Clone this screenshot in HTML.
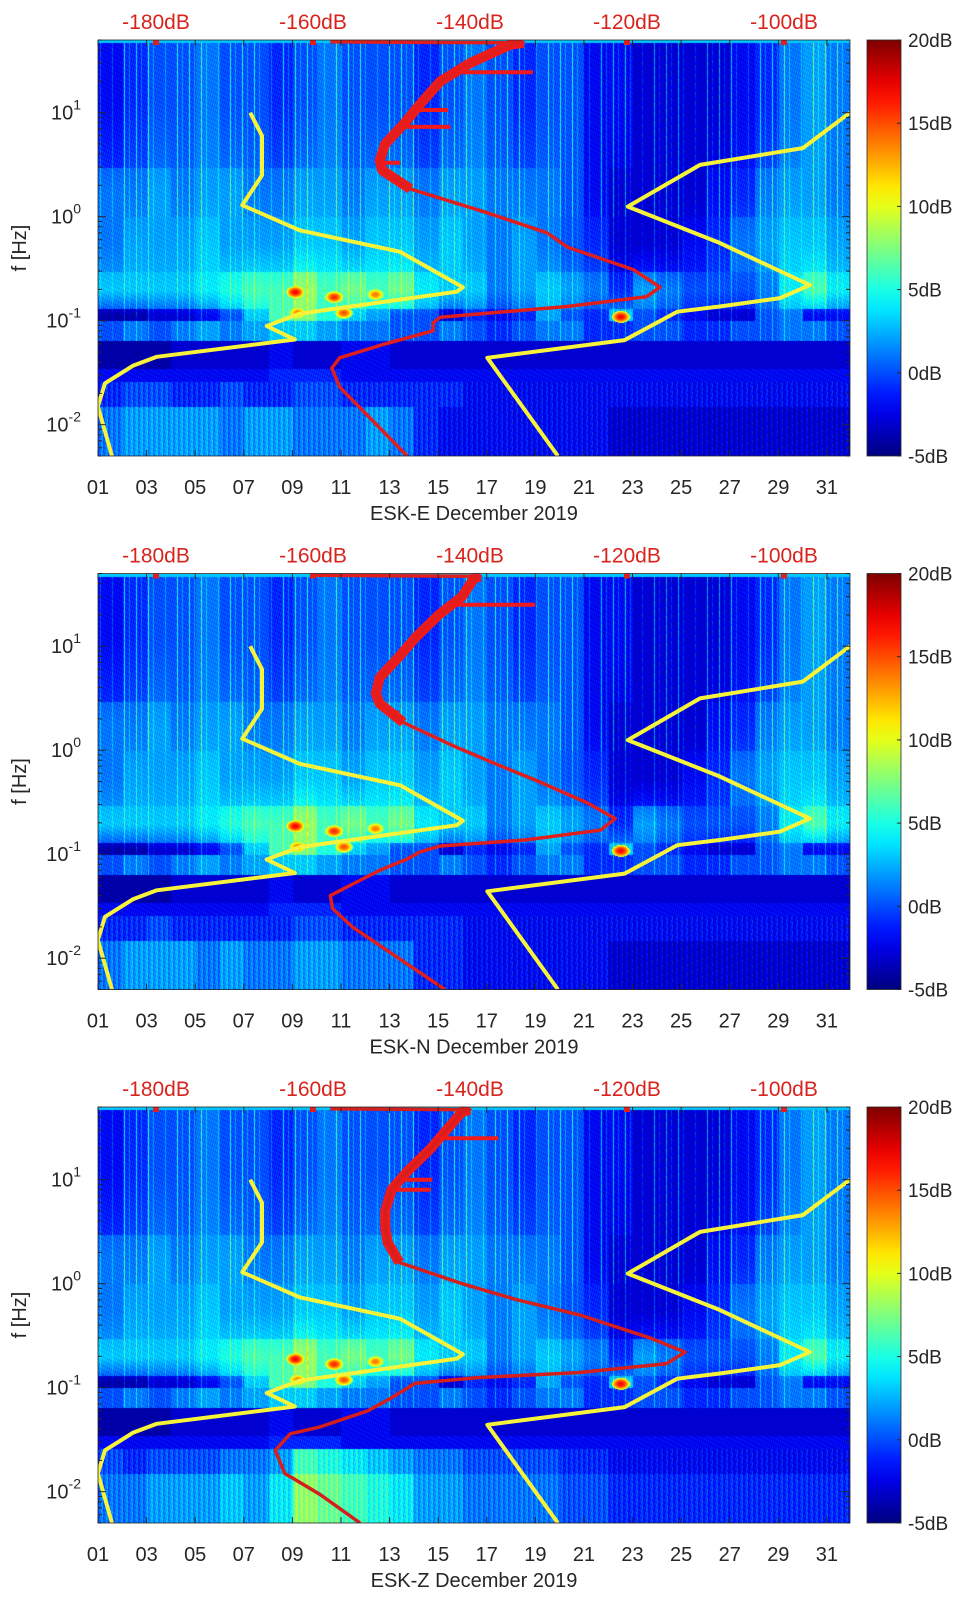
<!DOCTYPE html>
<html><head><meta charset="utf-8">
<style>
html,body{margin:0;padding:0;background:#fff;}
#wrap{position:relative;width:962px;height:1599px;overflow:hidden;background:#fff;}
canvas{position:absolute;}
svg{position:absolute;left:0;top:0;}
text{font-family:"Liberation Sans",sans-serif;}
</style></head>
<body>
<div id="wrap">
<canvas id="c0" width="752" height="416" style="left:98px;top:40px"></canvas>
<canvas id="c1" width="752" height="416" style="left:98px;top:573.5px"></canvas>
<canvas id="c2" width="752" height="416" style="left:98px;top:1107px"></canvas>
<svg id="ov" width="962" height="1599"></svg>
</div>
<script>
// ---- data ----
const panelNames = ["ESK-E December 2019","ESK-N December 2019","ESK-Z December 2019"];
const bandEdges = [0.005,0.015,0.026,0.035,0.065,0.1,0.13,0.3,1,3,50];
const band9 = [-2,-1,0,0,1,0,0,-1,0,1,0,0,0,-1,0,1,0,-1,0,0,-2,-2,-3,-3,-3,-3,-2,-1,1,2,1];
const band8 = [1,1,2,1,2,2,1,1,2,2,1,2,2,1,2,2,1,1,1,0,-2,-3,-3,-3,-3,-2,-1,1,2,2,1];
const band7 = [1,2,2,2,3,2,2,2,3,3,2,3,3,2,3,2,1,2,1,0,-1,-3,-3,-3,-2,-1,1,2,3,3,2];
const band6 = [3,3,3,3,4,5,6,6,8,6,7,6,7,4,3,3,1,2,3,2,1,-1,2,1,0,0,0,1,4,6,4];
const band5 = [-4,-4,-3,-3,-2,0,3,6,7,5,3,2,0,0,-3,-1,-2,-1,2,0,-1,3,0,-1,-2,-3,-3,0,1,-2,-2];
const band4 = [0,1,0,1,2,1,2,3,3,2,1,1,0,0,1,0,-1,0,1,1,-1,-1,0,0,-1,-1,0,0,1,1,0];
const band3 = [-4,-4,-4,-3,-3,-3,-3,-2,-3,-3,-2,-2,-3,-3,-3,-3,-3,-3,-3,-3,-3,-3,-3,-3,-3,-3,-3,-3,-3,-3,-3];
const band2 = [-2,-2,-2,-2,-2,-2,-2,-1,-1,-1,-2,-2,-2,-2,-2,-2,-2,-2,-2,-2,-2,-2,-2,-2,-2,-2,-2,-2,-2,-2,-2];
const band1E = [-1,0,0,-1,-1,0,-1,-1,0,0,-1,-1,-1,-1,-1,-2,-2,-2,-2,-2,-2,-2,-2,-2,-2,-2,-2,-2,-2,-2,-2];
const band0E = [1,2,2,2,2,1,2,2,1,1,1,2,1,-1,-2,-2,-2,-2,-2,-2,-2,-3,-3,-3,-3,-3,-3,-3,-3,-3,-3];
const band1N = [-1,-1,0,-1,-1,-1,-1,-1,0,0,-1,-1,-1,-1,-1,-2,-2,-2,-2,-2,-2,-2,-2,-2,-2,-2,-2,-2,-2,-2,-2];
const band0N = [1,2,2,2,1,2,1,1,2,2,1,1,1,-1,-1,-2,-2,-2,-2,-2,-2,-3,-3,-3,-3,-3,-3,-3,-3,-3,-3];
const band1Z = [0,-1,0,0,0,1,1,2,6,5,4,3,2,1,1,0,0,0,0,-1,-1,-2,-2,-2,-2,-2,-2,-2,-2,-2,-2];
const band0Z = [1,1,2,2,2,3,2,4,8,7,6,5,4,2,2,1,1,1,1,0,0,-1,-1,-1,-1,-1,-1,-1,-1,-1,-1];
const blobDay  = [9.1,10.7,11.1,12.4,9.2,22.5];
const blobFreq = [0.19,0.17,0.12,0.18,0.12,0.11];
const blobDb   = [17,16,15,14,14,17];

const nlnmF  = [10,6,2.5,1.29,0.74,0.46,0.21,0.19,0.117,0.089,0.066,0.045,0.037,0.025,0.015,0.005];
const nlnmDb = [-168.0,-166.5,-166.5,-169.0,-161.7,-148.9,-140.9,-141.7,-161.7,-165.9,-162.3,-179.9,-182.9,-186.5,-187.4,-185.6];
const nhnmF  = [10,4.57,3.15,1.25,0.56,0.22,0.165,0.137,0.122,0.065,0.044,0.005];
const nhnmDb = [-91.6,-97.6,-110.7,-119.9,-108.2,-96.7,-100.5,-108.2,-113.6,-120.3,-137.8,-128.8];

const redEF  = [48,47,45,30,20,12,8,5,3.5,2.8,1.85,1.09,0.70,0.51,0.31,0.21,0.17,0.137,0.108,0.095,0.08,0.059,0.044,0.035,0.023,0.005];
const redEDb = [-157.8,-133.2,-134.9,-140.0,-143.8,-146.4,-148.3,-150.8,-151.5,-151.2,-147.6,-137.8,-130.2,-127.6,-119.2,-115.8,-117.5,-127.6,-143.8,-144.7,-144.7,-151.1,-156.6,-157.6,-156.6,-148.0];
const spikeEF = [24.5,10.6,7.3,3.3];
const spikeEDb = [-132.0,-142.8,-142.5,-148.9];
const redNF  = [48,47,45,30,20,12,8,5,3.5,2.8,1.85,1.09,0.70,0.51,0.31,0.22,0.17,0.137,0.12,0.105,0.09,0.07,0.05,0.04,0.03,0.02,0.005];
const redNDb = [-160,-138.7,-139.5,-141,-144,-147,-149,-151.5,-152,-151.5,-148.5,-142,-136,-131.5,-125,-121.5,-123.4,-133,-143.8,-146.4,-148,-151.5,-155.3,-157.8,-157.5,-155,-143.2];
const spikeNF = [25,2.3];
const spikeNDb = [-131.7,-149];
const redZF  = [48,47,45,30,20,12,8,5,3.5,2.5,1.6,1.0,0.7,0.5,0.3,0.22,0.17,0.14,0.125,0.11,0.08,0.06,0.042,0.036,0.025,0.015,0.0094,0.005];
const redZDb = [-157.8,-140,-141,-143,-145,-148,-150,-150.8,-150.8,-150.5,-149,-141,-134,-126,-117,-112.6,-115,-126,-139,-147,-150,-153,-159.1,-162.9,-164.8,-163.6,-159.1,-154.0];
const spikeZF = [25,10,8];
const spikeZDb = [-136.4,-144.8,-145];

const dayTicks = ["01","03","05","07","09","11","13","15","17","19","21","23","25","27","29","31"];
const dbTicks = [-180,-160,-140,-120,-100];
const cbTicks = ["20dB","15dB","10dB","5dB","0dB","-5dB"];

const panelBands = [
 [band0E,band1E,band2,band3,band4,band5,band6,band7,band8,band9],
 [band0N,band1N,band2,band3,band4,band5,band6,band7,band8,band9],
 [band0Z,band1Z,band2,band3,band4,band5,band6,band7,band8,band9]];
const panelRed = [[redEF,redEDb,spikeEF,spikeEDb],[redNF,redNDb,spikeNF,spikeNDb],[redZF,redZDb,spikeZF,spikeZDb]];

// ---- geometry ----
const X0=98, W=752, H=416, TOPS=[40,573.5,1107];
const dayMin=1, dayMax=31.95;
function xDay(d){return X0+(d-dayMin)/(dayMax-dayMin)*W;}
const fMax=50, fMin=0.005;
function yF(f,top){return top+(Math.log10(fMax)-Math.log10(f))/(Math.log10(fMax)-Math.log10(fMin))*H;}
function xDb(db){return 156+(db+180)*7.85;}

function jet(t){
  t=Math.max(0,Math.min(1,t));
  const r=Math.max(0,Math.min(1,1.5-Math.abs(4*t-3)));
  const g=Math.max(0,Math.min(1,1.5-Math.abs(4*t-2)));
  const b=Math.max(0,Math.min(1,1.5-Math.abs(4*t-1)));
  return [r*255,g*255,b*255];
}

// ---- heatmaps ----
for(let p=0;p<3;p++){
  const cv=document.getElementById('c'+p), ctx=cv.getContext('2d');
  const img=ctx.createImageData(W,H), bands=panelBands[p];
  const lmax=Math.log10(fMax), lmin=Math.log10(fMin);
  const centers=[];
  for(let b=0;b<10;b++) centers.push((Math.log10(bandEdges[b])+Math.log10(bandEdges[b+1]))/2);
  const bx=blobDay.map(d=>xDay(d)-X0), by=blobFreq.map(f=>yF(f,0));
  for(let cx=0;cx<W;cx++){
    const day=dayMin+cx/W*(dayMax-dayMin);
    const di=Math.max(0,Math.min(30,Math.floor(day-1)));
    const hs=(cx*7919+13)%53;
    const stripe = hs<3?5:(hs<7?2:0);
    const lowStripe=((cx*31)%5)-2;
    for(let cy=0;cy<H;cy++){
      const lf=lmax-cy/H*(lmax-lmin);
      let b=0; while(b<9 && lf>Math.log10(bandEdges[b+1])) b++;
      let v=bands[b][di];
      if(b>=5){
        let b2 = lf>centers[b]?b+1:b-1;
        if(b2>=5 && b2<=9){
          const w=Math.min(1,Math.abs(lf-centers[b])/Math.abs(centers[b2]-centers[b]))*0.5;
          v=v*(1-w)+bands[b2][di]*w;
        }
      }
      if(b>=4) v+=stripe*(b>=8?1:0.6);
      if(b<=1) v+=lowStripe*0.6;
      v+=(((cx*131+cy*71)%9)-4)*0.25;
      for(let k=0;k<bx.length;k++){
        const dx=(cx-bx[k])/9, dy=(cy-by[k])/6, d2=dx*dx+dy*dy;
        if(d2<1){ v=Math.max(v, blobDb[k]-d2*8); }
      }
      if(cy<3) v=3;
      const c=jet((v+5)/25);
      const i=(cy*W+cx)*4;
      img.data[i]=c[0];img.data[i+1]=c[1];img.data[i+2]=c[2];img.data[i+3]=255;
    }
  }
  ctx.putImageData(img,0,0);
}

// ---- svg overlay ----
const NS="http://www.w3.org/2000/svg", svg=document.getElementById('ov');
function mk(tag,attrs,parent){const e=document.createElementNS(NS,tag);for(const k in attrs)e.setAttribute(k,attrs[k]);(parent||svg).appendChild(e);return e;}
function interp(fs,dbs,f){
  const lf=Math.log10(f);
  for(let i=0;i<fs.length-1;i++){
    const a=Math.log10(fs[i]),b=Math.log10(fs[i+1]);
    if(lf<=a&&lf>=b){const t=(a-lf)/(a-b);return dbs[i]+(dbs[i+1]-dbs[i])*t;}
  }
  return dbs[dbs.length-1];
}
function pts(fs,dbs,top,from,to){
  let s=[];for(let i=from;i<to;i++) s.push(xDb(dbs[i]).toFixed(1)+","+yF(fs[i],top).toFixed(1));return s.join(" ");
}

const defs=mk('defs',{});
const lg=mk('linearGradient',{id:'jetg',x1:0,y1:1,x2:0,y2:0},defs);
for(let i=0;i<=20;i++){const c=jet(i/20);mk('stop',{offset:(i/20),'stop-color':`rgb(${c[0]|0},${c[1]|0},${c[2]|0})`},lg);}

for(let p=0;p<3;p++){
  const top=TOPS[p], bot=top+H;
  const g=mk('g',{});
  
  
  const clipId='clip'+p;
  const cp=mk('clipPath',{id:clipId},defs); mk('rect',{x:X0,y:top,width:W,height:H},cp);
  const lines=mk('g',{'clip-path':`url(#${clipId})`},g);
  const y1=mk('polyline',{points:pts(nlnmF,nlnmDb,top,0,nlnmF.length),fill:'none',stroke:'#f6f33a','stroke-width':4,'stroke-linejoin':'round'},lines);
  
  
  const y2=mk('polyline',{points:pts(nhnmF,nhnmDb,top,0,nhnmF.length),fill:'none',stroke:'#f6f33a','stroke-width':4,'stroke-linejoin':'round'},lines);
  
  
  const [rf,rd,sf,sd]=panelRed[p];
  const col=p==2?'#d41f1c':'#e01e1e';
  let k=0;while(k<rf.length&&rf[k]>=2.5)k++;
  const rt=mk('polyline',{points:pts(rf,rd,top,1,k+1),fill:'none',stroke:'#f01a1a','stroke-width':10,'stroke-linejoin':'round'},lines);
  
  
  const r=mk('polyline',{points:pts(rf,rd,top,0,rf.length),fill:'none',stroke:col,'stroke-width':3.5,'stroke-linejoin':'round'},lines);
  
  
  for(let i=0;i<sf.length;i++){
    const yy=yF(sf[i],top);
    const s=mk('line',{x1:xDb(interp(rf,rd,sf[i])),x2:xDb(sd[i]),y1:yy,y2:yy,stroke:'#f01a1a','stroke-width':4},lines);
    
    
  }
  for(let i=0;i<dbTicks.length;i++){
    if(i==2) continue;
    const sq=mk('rect',{x:xDb(dbTicks[i])-3,y:top,width:6,height:5,fill:'#e01e1e'},g);
    
    
  }
  const fr=mk('rect',{x:X0,y:top,width:W,height:H,fill:'none',stroke:'#262626','stroke-width':0.8},g);
  
  
  for(let i=0;i<dayTicks.length;i++){
    const x=xDay(+dayTicks[i]);
    mk('line',{x1:x,x2:x,y1:bot,y2:bot-6,stroke:'#262626','stroke-width':1},g);
    mk('line',{x1:x,x2:x,y1:top,y2:top+6,stroke:'#262626','stroke-width':1},g);
    const t=mk('text',{x:x,y:bot+38,'font-size':20,'text-anchor':'middle',fill:'#262626'},g);
    t.textContent=dayTicks[i];
    
    
  }
  const xl=mk('text',{x:474,y:bot+64,'font-size':20,'text-anchor':'middle',fill:'#262626'},g);
  xl.textContent=panelNames[p];
  
  
  for(let e=-3;e<=1;e++){
    for(let m=1;m<=9;m++){
      const f=m*Math.pow(10,e); if(f<fMin||f>fMax) continue;
      const y=yF(f,top), L=m==1?8:4;
      mk('line',{x1:X0,x2:X0+L,y1:y,y2:y,stroke:'#262626','stroke-width':1},g);
      mk('line',{x1:X0+W,x2:X0+W-L,y1:y,y2:y,stroke:'#262626','stroke-width':1},g);
      if(m==1){
        const t=mk('text',{x:81,y:y+7,'font-size':20,'text-anchor':'end',fill:'#262626'},g);
        
        
        const a=mk('tspan',{},t);a.textContent='10';
        const b=mk('tspan',{dy:-10,'font-size':14},t);b.textContent=String(e);
      }
    }
  }
  const yl=mk('text',{x:0,y:0,'font-size':20,'text-anchor':'middle',fill:'#262626',transform:`translate(26,${top+H/2}) rotate(-90)`},g);
  yl.textContent='f [Hz]';
  
  
  for(let i=0;i<dbTicks.length;i++){
    const t=mk('text',{x:xDb(dbTicks[i]),y:top-11,'font-size':21,'text-anchor':'middle',fill:'#d9231d'},g);
    t.textContent=dbTicks[i]+'dB';
    
    
  }
  const cb=mk('rect',{x:867,y:top,width:34,height:H,fill:'url(#jetg)',stroke:'#262626','stroke-width':0.8},g);
  
  
  for(let i=0;i<cbTicks.length;i++){
    const y=top+i*H/5;
    mk('line',{x1:901,x2:897,y1:y,y2:y,stroke:'#262626','stroke-width':1},g);
    const t=mk('text',{x:908,y:y+7,'font-size':19,fill:'#262626'},g);
    t.textContent=cbTicks[i];
    
    
  }
}
</script>
</body></html>
